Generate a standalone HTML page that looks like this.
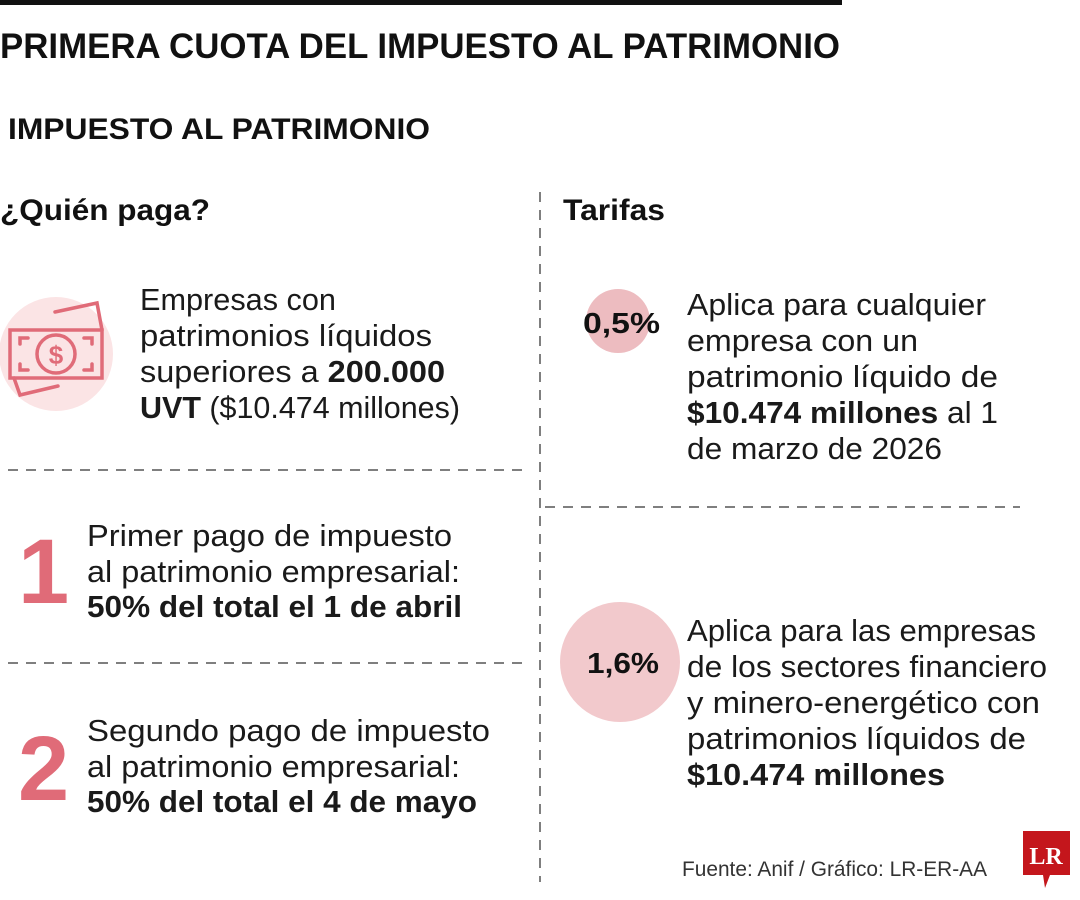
<!DOCTYPE html>
<html><head><meta charset="utf-8"><style>
html,body{margin:0;padding:0;background:#fff;}
svg{display:block;font-family:"Liberation Sans",sans-serif;}
.b{font-size:30.5px;fill:#1a1a1a;}
.bb{font-weight:bold;}
</style></head><body>
<svg width="1080" height="900" viewBox="0 0 1080 900">
<rect x="0" y="0" width="842" height="5" fill="#111"/>
<text x="0" y="58" font-size="35" font-weight="bold" fill="#111" textLength="840" lengthAdjust="spacingAndGlyphs">PRIMERA CUOTA DEL IMPUESTO AL PATRIMONIO</text>
<text x="8" y="139" font-size="30" font-weight="bold" fill="#111" textLength="422" lengthAdjust="spacingAndGlyphs">IMPUESTO AL PATRIMONIO</text>
<text x="0" y="220" font-size="30" font-weight="bold" fill="#111" textLength="210" lengthAdjust="spacingAndGlyphs">¿Quién paga?</text>
<text x="563" y="220" font-size="30" font-weight="bold" fill="#111" textLength="102" lengthAdjust="spacingAndGlyphs">Tarifas</text>

<g stroke="#555" stroke-width="1.5" stroke-dasharray="10,8" fill="none">
<line x1="540" y1="192" x2="540" y2="882"/>
<line x1="8" y1="470" x2="530" y2="470"/>
<line x1="545" y1="507" x2="1020" y2="507"/>
<line x1="8" y1="663" x2="530" y2="663"/>
</g>

<g>
<circle cx="56" cy="354" r="57" fill="#fbe4e5"/>
<g stroke="#e06b78" stroke-width="3.5" fill="none" stroke-linecap="round">
<rect x="10" y="330" width="92" height="48"/>
<circle cx="56" cy="354" r="19"/>
<path d="M55 312 L97 303 L102 330"/>
<path d="M14 378 L20 395 L58 386"/>
<path d="M20 344 V338 H28 M20 364 V370 H28 M92 344 V338 H84 M92 364 V370 H84"/>
</g>
<text x="56" y="364" font-size="26" font-weight="bold" fill="#e06b78" text-anchor="middle">$</text>
</g>

<g class="b">
<text x="140" y="310" textLength="196" lengthAdjust="spacingAndGlyphs">Empresas con</text>
<text x="140" y="346" textLength="292" lengthAdjust="spacingAndGlyphs">patrimonios líquidos</text>
<text x="140" y="382" textLength="305" lengthAdjust="spacingAndGlyphs">superiores a <tspan class="bb">200.000</tspan></text>
<text x="140" y="418" textLength="320" lengthAdjust="spacingAndGlyphs"><tspan class="bb">UVT</tspan> ($10.474 millones)</text>
</g>

<text x="18" y="603" font-size="92" font-weight="bold" fill="#e06b78">1</text>
<g class="b">
<text x="87" y="546" textLength="365" lengthAdjust="spacingAndGlyphs">Primer pago de impuesto</text>
<text x="87" y="582" textLength="373" lengthAdjust="spacingAndGlyphs">al patrimonio empresarial:</text>
<text x="87" y="617" class="bb" textLength="375" lengthAdjust="spacingAndGlyphs">50% del total el 1 de abril</text>
</g>

<text x="18" y="800" font-size="92" font-weight="bold" fill="#e06b78">2</text>
<g class="b">
<text x="87" y="741" textLength="403" lengthAdjust="spacingAndGlyphs">Segundo pago de impuesto</text>
<text x="87" y="777" textLength="373" lengthAdjust="spacingAndGlyphs">al patrimonio empresarial:</text>
<text x="87" y="812" class="bb" textLength="390" lengthAdjust="spacingAndGlyphs">50% del total el 4 de mayo</text>
</g>

<circle cx="618" cy="321" r="32" fill="#edbcc0"/>
<text x="583" y="333" font-size="29" font-weight="bold" fill="#111" textLength="77" lengthAdjust="spacingAndGlyphs">0,5%</text>
<g class="b">
<text x="687" y="315" textLength="299" lengthAdjust="spacingAndGlyphs">Aplica para cualquier</text>
<text x="687" y="351" textLength="231" lengthAdjust="spacingAndGlyphs">empresa con un</text>
<text x="687" y="387" textLength="311" lengthAdjust="spacingAndGlyphs">patrimonio líquido de</text>
<text x="687" y="423" textLength="311" lengthAdjust="spacingAndGlyphs"><tspan class="bb">$10.474 millones</tspan> al 1</text>
<text x="687" y="459" textLength="255" lengthAdjust="spacingAndGlyphs">de marzo de 2026</text>
</g>

<circle cx="620" cy="662" r="60" fill="#f2c9cc"/>
<text x="587" y="673" font-size="29" font-weight="bold" fill="#111" textLength="72" lengthAdjust="spacingAndGlyphs">1,6%</text>
<g class="b">
<text x="687" y="641" textLength="349" lengthAdjust="spacingAndGlyphs">Aplica para las empresas</text>
<text x="687" y="677" textLength="360" lengthAdjust="spacingAndGlyphs">de los sectores financiero</text>
<text x="687" y="713" textLength="353" lengthAdjust="spacingAndGlyphs">y minero-energético con</text>
<text x="687" y="749" textLength="339" lengthAdjust="spacingAndGlyphs">patrimonios líquidos de</text>
<text x="687" y="785" class="bb" textLength="258" lengthAdjust="spacingAndGlyphs">$10.474 millones</text>
</g>

<text x="682" y="876" font-size="21" fill="#333" textLength="305" lengthAdjust="spacingAndGlyphs">Fuente: Anif / Gráfico: LR-ER-AA</text>

<g>
<path d="M1023 831 H1070 V875 H1050 L1045 888 L1043 875 H1023 Z" fill="#c4161c"/>
<text x="1046" y="864" font-family="Liberation Serif,serif" font-weight="bold" font-size="24" fill="#fff" text-anchor="middle">LR</text>
</g>
</svg>
</body></html>
